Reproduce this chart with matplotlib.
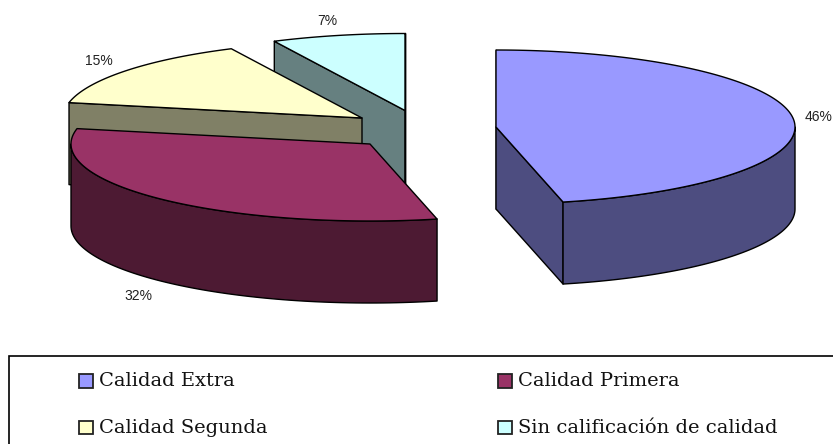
import numpy as np
import matplotlib
matplotlib.use("Agg")
import matplotlib.pyplot as plt
from matplotlib.patches import Polygon, Rectangle

categories = ["Calidad Extra", "Calidad Primera", "Calidad Segunda", "Sin calificación de calidad"]
values = [46.4, 31.8, 14.6, 7.2]
top_colors = ["#9999FF", "#993366", "#FFFFCC", "#CCFFFF"]
side_colors = ["#4D4D80", "#4D1A33", "#808066", "#668080"]
# exploded slice apex in pixels
centers = [(496, 127), (370, 144), (362, 118), (405, 110.5)]
label_pos = [(819, 117), (138.5, 296), (99, 61), (327, 21)]
legend_pos = [(79.5, 381), (498, 381), (79.5, 427.5), (498, 427.5)]

RX, RY, DEPTH = 299, 77, 82
W, H = 833, 444

fig = plt.figure(figsize=(W / 100, H / 100), dpi=100)
ax = fig.add_axes([0, 0, 1, 1])
ax.set_xlim(0, W)
ax.set_ylim(H, 0)
ax.axis("off")

angles = np.concatenate([[0], np.cumsum(values)]) * 3.6
angles = angles / angles[-1] * 360


def rim(c, a):
    a = np.radians(a)
    return np.column_stack([c[0] + RX * np.sin(a), c[1] - RY * np.cos(a)])


def shape(pts, color, z):
    ax.add_patch(Polygon(pts, closed=True, facecolor=color, edgecolor="black",
                         linewidth=1.0, joinstyle="round", zorder=z))


for i in [3, 2, 1, 0]:
    c = centers[i]
    a0, a1 = angles[i], angles[i + 1]
    z = 4 - i
    down = np.array([0, DEPTH])
    # cut faces that look towards the viewer
    for a, normal in ((a0, a0 - 90), (a1, a1 + 90)):
        if np.cos(np.radians(normal)) < 1e-6:
            p = rim(c, [a])[0]
            shape([c, p, p + down, np.array(c) + down], side_colors[i], z)
    # outer wall, front half only
    lo, hi = max(a0, 90), min(a1, 270)
    if hi > lo:
        arc = rim(c, np.linspace(lo, hi, 80))
        shape(np.vstack([arc, arc[::-1] + down]), side_colors[i], z)
    # top surface
    arc = rim(c, np.linspace(a0, a1, 150))
    shape(np.vstack([[c], arc]), top_colors[i], z)

for v, (x, y) in zip(values, label_pos):
    ax.text(x, y, f"{round(v)}%", ha="center", va="center", fontsize=10,
            family="Liberation Sans", color="#222222", zorder=10)

ax.add_patch(Rectangle((9, 356), 900, 200, facecolor="white", edgecolor="black",
                       linewidth=1.2, zorder=11))
for name, col, (x, y) in zip(categories, top_colors, legend_pos):
    ax.add_patch(Rectangle((x, y - 7), 14, 13.5, facecolor=col, edgecolor="#222222",
                           linewidth=1.3, zorder=12))
    ax.text(x + 20, y, name, ha="left", va="center", fontsize=14,
            family="DejaVu Serif", color="#111111", zorder=12)

fig.savefig("out.png", dpi=100)
